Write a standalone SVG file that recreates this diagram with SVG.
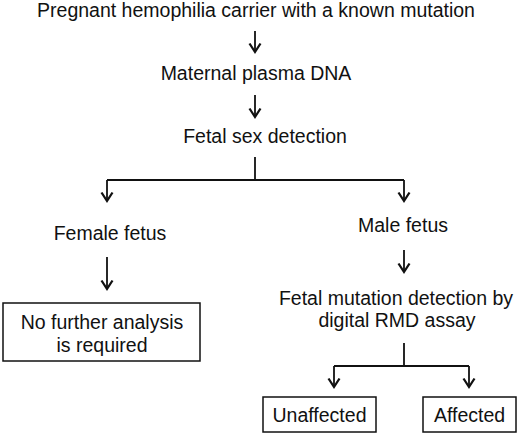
<svg xmlns="http://www.w3.org/2000/svg" width="520" height="437" viewBox="0 0 520 437">
<style>
text{font-family:"Liberation Sans",Arial,sans-serif;font-size:19.5px;fill:#111;text-anchor:middle}
.c{fill:none;stroke:#111;stroke-width:1.8}
.b{fill:#fff;stroke:#111;stroke-width:1.5}
</style>
<defs>
<marker id="ah" markerUnits="userSpaceOnUse" viewBox="-12 -8 16 16" markerWidth="16" markerHeight="16" refX="0" refY="0" orient="auto" overflow="visible">
<path d="M-8.5,-5.5 L0,0 L-8.5,5.5" fill="none" stroke="#111" stroke-width="2.3" stroke-linejoin="miter"/>
</marker>
</defs>
<rect width="520" height="437" fill="#fff"/>
<g id="connectors">
<line class="c" x1="255" y1="31" x2="255" y2="52" marker-end="url(#ah)"/>
<line class="c" x1="255" y1="95" x2="255" y2="117" marker-end="url(#ah)"/>
<path class="c" d="M255,157 V180 M107,180 H404"/>
<line class="c" x1="107" y1="180" x2="107" y2="201" marker-end="url(#ah)"/>
<line class="c" x1="404" y1="180" x2="404" y2="201" marker-end="url(#ah)"/>
<line class="c" x1="107" y1="257" x2="107" y2="289" marker-end="url(#ah)"/>
<line class="c" x1="404" y1="250" x2="404" y2="272" marker-end="url(#ah)"/>
<path class="c" d="M404,343 V366 M334,366 H469"/>
<line class="c" x1="334" y1="366" x2="334" y2="387" marker-end="url(#ah)"/>
<line class="c" x1="469" y1="366" x2="469" y2="387" marker-end="url(#ah)"/>
</g>
<g id="n1"><text x="256" y="17">Pregnant hemophilia carrier with a known mutation</text></g>
<g id="n2"><text x="256" y="80">Maternal plasma DNA</text></g>
<g id="n3"><text x="265" y="143">Fetal sex detection</text></g>
<g id="n4"><text x="110" y="240">Female fetus</text></g>
<g id="n5"><text x="403" y="232">Male fetus</text></g>
<g id="n6"><rect class="b" x="3" y="303" width="197" height="58"/><text x="102" y="329">No further analysis</text><text x="102" y="352">is required</text></g>
<g id="n7"><text x="396" y="305">Fetal mutation detection by</text><text x="397" y="327">digital RMD assay</text></g>
<g id="n8"><rect class="b" x="263" y="397" width="113" height="35"/><text x="319.5" y="422">Unaffected</text></g>
<g id="n9"><rect class="b" x="423" y="397" width="93" height="35"/><text x="469.5" y="422">Affected</text></g>
</svg>
